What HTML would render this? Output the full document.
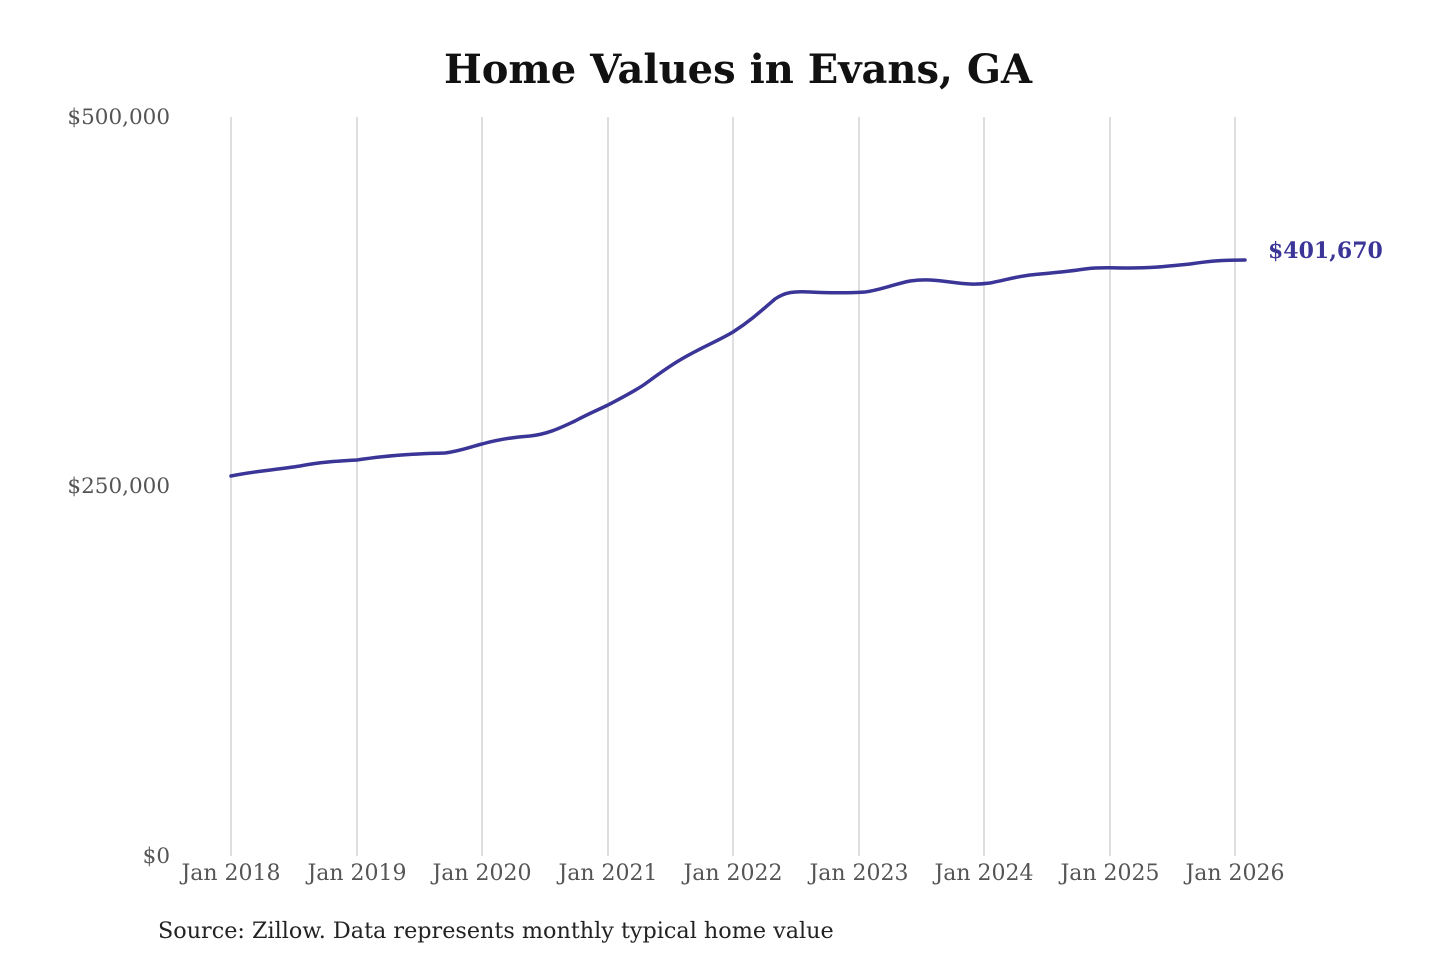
<!DOCTYPE html>
<html><head><meta charset="utf-8"><style>
html,body{margin:0;padding:0;background:#fff;width:1440px;height:960px;overflow:hidden}
svg text{font-family:"DejaVu Serif","Liberation Serif",serif}
</style></head><body>
<svg width="1440" height="960" viewBox="0 0 1440 960" xmlns="http://www.w3.org/2000/svg">
<text x="738" y="83" text-anchor="middle" font-size="40" font-weight="bold" fill="#111">Home Values in Evans, GA</text>
<g stroke="#c8c8c8" stroke-width="1.2">
<line x1="231" y1="117" x2="231" y2="856"/><line x1="357" y1="117" x2="357" y2="856"/>
<line x1="482" y1="117" x2="482" y2="856"/><line x1="608" y1="117" x2="608" y2="856"/>
<line x1="733" y1="117" x2="733" y2="856"/><line x1="859" y1="117" x2="859" y2="856"/>
<line x1="984" y1="117" x2="984" y2="856"/><line x1="1110" y1="117" x2="1110" y2="856"/>
<line x1="1235" y1="117" x2="1235" y2="856"/>
</g>
<g font-size="21.5" fill="#555" text-anchor="end">
<text x="170" y="124">$500,000</text>
<text x="170" y="493">$250,000</text>
<text x="170" y="863">$0</text>
</g>
<g font-size="22" fill="#555" text-anchor="middle">
<text x="231" y="880">Jan 2018</text><text x="357" y="880">Jan 2019</text>
<text x="482" y="880">Jan 2020</text><text x="608" y="880">Jan 2021</text>
<text x="733" y="880">Jan 2022</text><text x="859" y="880">Jan 2023</text>
<text x="984" y="880">Jan 2024</text><text x="1110" y="880">Jan 2025</text>
<text x="1235" y="880">Jan 2026</text>
</g>
<path d="M231,476 C255,471 275,470 300,466 C320,462 340,461 357,460 C385,456 405,454 445,453 C460,451 470,447 482,444 C500,439 515,437 530,436 C548,434 560,428 575,421 C590,413 600,409 608,405 C625,396 635,391 645,384 C660,373 668,367 680,360 C700,348 718,341 733,332 C750,321 760,312 775,299 C785,292 795,291 810,292 C830,293 850,293 865,292 C880,290 895,284 910,281 C925,279 935,280 950,282 C965,284 975,285 990,283 C1005,280 1015,277 1030,275 C1050,273 1065,272 1085,269 C1100,267 1110,268 1130,268 C1150,268 1160,267 1190,264 C1210,261 1222,260 1245,260" fill="none" stroke="#3a3597" stroke-width="3.5" stroke-linecap="round"/>
<text x="1268" y="258" font-size="22" font-weight="bold" fill="#3a3597">$401,670</text>
<text x="158" y="938" font-size="22.3" fill="#222">Source: Zillow. Data represents monthly typical home value</text>
</svg>
</body></html>
